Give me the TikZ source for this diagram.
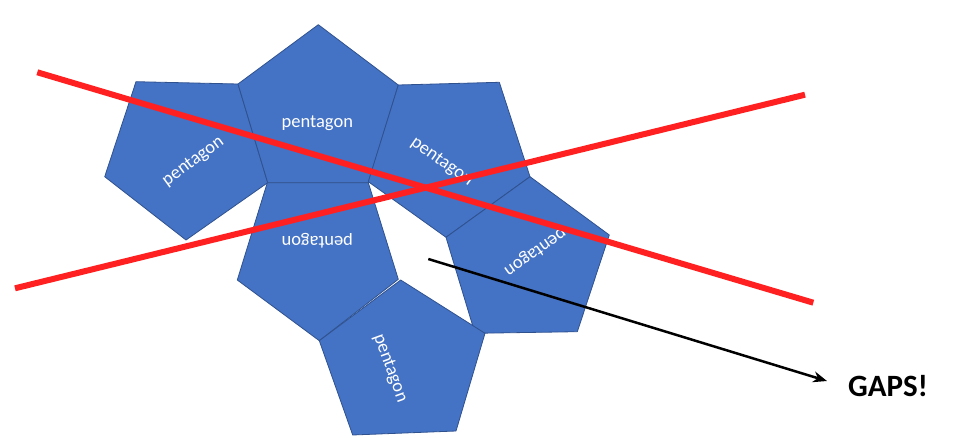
\documentclass[tikz,border=0pt]{standalone}
\usepackage{fontspec}
\setmainfont{Carlito}
\usetikzlibrary{arrows.meta}
\definecolor{pfill}{HTML}{4472C4}
\definecolor{pedge}{HTML}{2F528F}
\definecolor{redline}{HTML}{FF2121}
\tikzset{
  pent/.style={fill=pfill, draw=pedge, line width=0.8pt, line join=round},
  ptext/.style={text=white, font=\fontsize{18.5}{20}\selectfont, inner sep=0pt},
  cross/.style={draw=redline, line width=6pt},
  gaparrow/.style={draw=black, line width=2.5pt, -{Stealth[length=14pt,width=11pt]}}
}
\begin{document}
\begin{tikzpicture}[x=1pt,y=-1pt]
\useasboundingbox (0,0) rectangle (979,438);
% pentagons
\draw[pent] (136,81.7) -- (238,84) -- (267.7,182.7) -- (186,240) -- (104.7,176.7) -- cycle;
\draw[pent] (318.3,24.7) -- (398.3,85) -- (368.3,182.7) -- (267.7,182.7) -- (238,84) -- cycle;
\draw[pent] (398.3,85) -- (499.3,82.3) -- (530,176.7) -- (446,237.3) -- (368.3,181.7) -- cycle;
\draw[pent] (530,176.7) -- (609.3,235) -- (577.3,331.7) -- (475,333.3) -- (446,237.3) -- cycle;
\draw[pent] (267.3,182.7) -- (368.3,182.7) -- (398.3,279.3) -- (319.3,340.7) -- (237.3,280) -- cycle;
\draw[pent] (400.7,280) -- (485,333.3) -- (456,431) -- (352.7,435) -- (319.3,340.7) -- cycle;
% labels
\node[ptext, rotate=36] (t1) at (193.3,161.7) {pentagon};
\node[ptext] (t2) at (317.3,123.3) {pentagon};
\node[ptext, rotate=-35] (t3) at (441.7,161.7) {pentagon};
\node[ptext, rotate=-145] (t4) at (535,251.7) {pentagon};
\node[ptext, rotate=180] (t5) at (317.3,241) {pentagon};
\node[ptext, rotate=-70] (t6) at (390,368.3) {pentagon};
% red crossing lines
\coordinate (r1a) at (37.3,72.3);
\coordinate (r1b) at (813.3,302.7);
\coordinate (r2a) at (15,288.3);
\coordinate (r2b) at (805,94.7);
\draw[cross] (r1a) -- (r1b);
\draw[cross] (r2a) -- (r2b);
% arrow and label
\node[anchor=base west, inner sep=0pt, font=\bfseries\fontsize{31}{34}\selectfont] (gaps) at (848,396.7) {GAPS!};
\coordinate (gapstart) at (428.3,259);
\coordinate (gapend) at (827,381);
\draw[gaparrow] (gapstart) -- (gapend);
\end{tikzpicture}
\end{document}
